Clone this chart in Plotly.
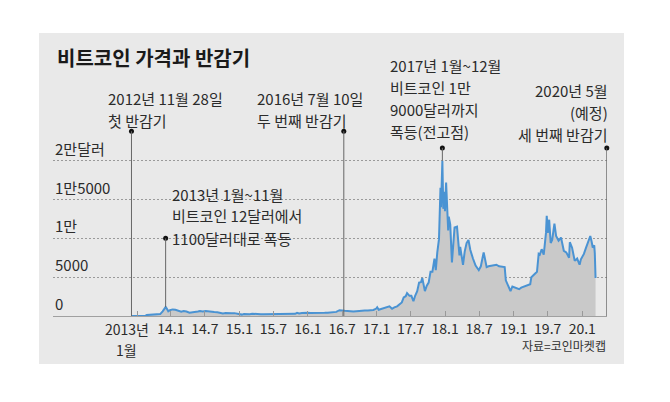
import plotly.graph_objects as go

# ---------------- data ----------------
dates = [
    "2012-11-28", "2012-12-15", "2013-01-15", "2013-02-10", "2013-08-25", "2013-09-15",
    "2013-10-15", "2013-11-05", "2013-11-18", "2013-11-30", "2013-12-04", "2013-12-10",
    "2013-12-18", "2013-12-27", "2014-01-10", "2014-01-25", "2014-02-10", "2014-02-25",
    "2014-03-10", "2014-03-25", "2014-04-10", "2014-04-25", "2014-05-10", "2014-05-25",
    "2014-06-05", "2014-06-20", "2014-07-05", "2014-07-20", "2014-08-05", "2014-08-20",
    "2014-09-05", "2014-09-20", "2014-10-05", "2014-10-20", "2014-11-05", "2014-11-20",
    "2014-12-05", "2014-12-20", "2015-01-05", "2015-01-14", "2015-01-25", "2015-02-10",
    "2015-02-25", "2015-03-10", "2015-03-25", "2015-04-10", "2015-04-25", "2015-05-10",
    "2015-05-25", "2015-06-10", "2015-06-25", "2015-07-10", "2015-07-25", "2015-08-10",
    "2015-08-25", "2015-09-10", "2015-09-25", "2015-10-10", "2015-10-25", "2015-11-04",
    "2015-11-15", "2015-11-30", "2015-12-15", "2015-12-30", "2016-01-15", "2016-01-30",
    "2016-02-15", "2016-02-28", "2016-03-15", "2016-03-30", "2016-04-15", "2016-04-30",
    "2016-05-15", "2016-05-31", "2016-06-17", "2016-06-30", "2016-07-15", "2016-07-30",
    "2016-08-15", "2016-08-30", "2016-09-15", "2016-09-30", "2016-10-15", "2016-10-30",
    "2016-11-15", "2016-11-30", "2016-12-15", "2016-12-30", "2017-01-04", "2017-01-12",
    "2017-01-25", "2017-02-10", "2017-02-25", "2017-03-10", "2017-03-24", "2017-04-05",
    "2017-04-20", "2017-05-05", "2017-05-15", "2017-05-25", "2017-06-05", "2017-06-12",
    "2017-06-25", "2017-07-05", "2017-07-16", "2017-07-25", "2017-08-05", "2017-08-15",
    "2017-08-25", "2017-09-01", "2017-09-15", "2017-09-25", "2017-10-05", "2017-10-15",
    "2017-10-25", "2017-11-05", "2017-11-12", "2017-11-20", "2017-11-29", "2017-12-07",
    "2017-12-10", "2017-12-17", "2017-12-22", "2017-12-27", "2017-12-31", "2018-01-06",
    "2018-01-10", "2018-01-17", "2018-01-20", "2018-01-28", "2018-02-06", "2018-02-12",
    "2018-02-20", "2018-03-05", "2018-03-12", "2018-03-18", "2018-03-22", "2018-04-06",
    "2018-04-15", "2018-04-25", "2018-05-05", "2018-05-15", "2018-05-29", "2018-06-12",
    "2018-06-29", "2018-07-10", "2018-07-25", "2018-08-10", "2018-08-20", "2018-09-05",
    "2018-09-15", "2018-10-01", "2018-10-15", "2018-11-01", "2018-11-14", "2018-11-20",
    "2018-11-30", "2018-12-15", "2018-12-25", "2019-01-10", "2019-01-30", "2019-02-10",
    "2019-02-25", "2019-03-10", "2019-03-30", "2019-04-05", "2019-04-20", "2019-05-05",
    "2019-05-14", "2019-05-20", "2019-05-30", "2019-06-10", "2019-06-22", "2019-06-26",
    "2019-07-02", "2019-07-09", "2019-07-17", "2019-07-25", "2019-08-06", "2019-08-15",
    "2019-08-28", "2019-09-10", "2019-09-25", "2019-10-08", "2019-10-23", "2019-10-27",
    "2019-11-08", "2019-11-22", "2019-12-05", "2019-12-18", "2019-12-25", "2020-01-10",
    "2020-01-20", "2020-02-01", "2020-02-13", "2020-02-20", "2020-02-26", "2020-03-05",
    "2020-03-08", "2020-03-12",
]
prices = [
    12, 13, 15, 25, 120, 130,
    150, 250, 600, 1130, 1150, 950,
    600, 750, 850, 800, 680, 550,
    630, 580, 420, 470, 450, 580,
    650, 590, 630, 620, 590, 510,
    480, 410, 330, 380, 340, 370,
    370, 320, 275, 180, 250, 220,
    240, 290, 250, 235, 225, 240,
    237, 230, 245, 290, 290, 265,
    220, 240, 235, 245, 285, 400,
    330, 375, 450, 430, 390, 380,
    400, 430, 415, 415, 430, 450,
    455, 530, 750, 670, 665, 655,
    570, 575, 610, 610, 640, 700,
    715, 745, 780, 960, 1130, 800,
    900, 1000, 1170, 1250, 930, 1120,
    1240, 1550, 1750, 2400, 2550, 2950,
    2600, 2600, 1900, 2600, 3200, 4300,
    4350, 4900, 3200, 3900, 4300, 5700,
    5700, 7400, 5900, 8200, 9900, 16500,
    14000, 20000, 13800, 16000, 13500, 17200,
    14500, 11000, 12800, 11800, 6900, 8900,
    11400, 11500, 9100, 7800, 8900, 6600,
    8300, 9400, 9800, 8500, 7400, 6500,
    5900, 6400, 8200, 6300, 6400, 6500,
    6500, 6600, 6400, 6350, 6300, 4600,
    4000, 3200, 3800, 3600, 3450, 3650,
    3800, 3900, 4100, 5000, 5300, 5700,
    8000, 7900, 8600, 7900, 10700, 12900,
    10700, 12400, 9400, 9800, 11900, 10300,
    9700, 10100, 8400, 8200, 7500, 9500,
    8800, 7100, 7400, 6600, 7300, 8000,
    8700, 9400, 10300, 9600, 8800, 9100,
    8100, 4900,
]

x_tick_dates = ["2013-01-01", "2014-01-01", "2014-07-01", "2015-01-01", "2015-07-01",
                "2016-01-01", "2016-07-01", "2017-01-01", "2017-07-01", "2018-01-01",
                "2018-07-01", "2019-01-01", "2019-07-01", "2020-01-01"]
x_tick_text = ["2013년\n1월", "14.1", "14.7", "15.1", "15.7", "16.1", "16.7", "17.1",
               "17.7", "18.1", "18.7", "19.1", "19.7", "20.1"]

y_tick_vals = [0, 5000, 10000, 15000, 20000]
y_tick_text = ["0", "5000", "1만", "1만5000", "2만달러"]

# event markers: date, price level where the leader line ends, top of leader line
event_dates = ["2012-11-28", "2013-12-04", "2016-07-10", "2017-12-17", "2020-05-11"]
event_base = [0, 1150, 0, 20000, 0]
event_top = [23800, 10000, 23800, 21650, 21650]

note_first_halving = ["2012년 11월 28일", "첫 반감기"]
note_second_halving = ["2016년 7월 10일", "두 번째 반감기"]
note_2017 = ["2017년 1월~12월", "비트코인 1만", "9000달러까지", "폭등(전고점)"]
note_third_halving = ["2020년 5월", "(예정)", "세 번째 반감기"]
note_2013 = ["2013년 1월~11월", "비트코인 12달러에서", "1100달러대로 폭등"]

title_text = "비트코인 가격과 반감기"
source_text = "자료=코인마켓캡"

# ---------------- layout geometry ----------------
W_FIG, H_FIG = 670, 402
L, R, T, Bm = 53, 63, 33, 86
PW = W_FIG - L - R
PH = H_FIG - T - Bm
BASE = H_FIG - Bm


def ppx(x):
    return (x - L) / PW


def ppy(y):
    return (BASE - y) / PH


FONT = "Noto Sans CJK KR"
TXT = "#2b2b2b"
BLUE = "#4a93d3"
FS = 15
LINE_GAP = 22
TICK_FS = 14

fig = go.Figure()

# price area + line
fig.add_trace(go.Scatter(
    x=dates, y=prices, mode="lines",
    line=dict(color=BLUE, width=2),
    fill="tozeroy", fillcolor="#c9c9c9",
    hoverinfo="skip", showlegend=False,
))

# leader lines
for d, b, t in zip(event_dates, event_base, event_top):
    fig.add_shape(type="line", xref="x", yref="y", x0=d, x1=d, y0=b, y1=t,
                  line=dict(color="#666666", width=1), layer="above")

fig.add_trace(go.Scatter(
    x=event_dates, y=event_top, mode="markers",
    marker=dict(color="#111111", size=5),
    hoverinfo="skip", showlegend=False, cliponaxis=False,
))

# grey panel
fig.add_shape(type="rect", xref="paper", yref="paper",
              x0=ppx(39), x1=ppx(624), y0=ppy(364), y1=ppy(33),
              fillcolor="#e9e9e9", line=dict(width=0), layer="below")

ann = []
ann.append(dict(text=f"<b>{title_text}</b>", x=ppx(55), y=ppy(57), xanchor="left",
                yanchor="middle", font=dict(size=20, color="#1a1a1a")))


def add_block(lines, xpx, ycenter, anchor="left", gap=LINE_GAP):
    n = len(lines)
    for i, t in enumerate(lines):
        yy = ycenter + (i - (n - 1) / 2) * gap
        ann.append(dict(text=t, x=ppx(xpx), y=ppy(yy), xanchor=anchor,
                        yanchor="middle", align=anchor))


add_block(note_first_halving, 106, 109.5)
add_block(note_second_halving, 255, 109.5)
add_block(note_2017, 388, 98.5)
add_block(note_third_halving, 610, 112, anchor="right")
add_block(note_2013, 170, 216)

ann.append(dict(text=source_text, x=ppx(608), y=ppy(345), xanchor="right",
                yanchor="middle", font=dict(size=12, color="#333333")))

# first x tick label sits a little left of its tick in the original (two lines)
for i, t in enumerate(x_tick_text[0].split("\n")):
    ann.append(dict(text=t, xref="x", yref="paper", x=x_tick_dates[0], y=ppy(329 + i * 20.5),
                    xanchor="center", yanchor="middle", xshift=-11,
                    font=dict(size=TICK_FS, color=TXT)))

for v, t in zip(y_tick_vals, y_tick_text):
    ann.append(dict(text=t, xref="paper", yref="y", x=0, y=v, xanchor="left",
                    yanchor="bottom", yshift=0))

for a in ann:
    a.setdefault("xref", "paper")
    a.setdefault("yref", "paper")
    a.setdefault("showarrow", False)
    a.setdefault("font", dict(size=FS, color=TXT))

fig.update_layout(
    width=W_FIG, height=H_FIG,
    margin=dict(l=L, r=R, t=T, b=Bm),
    paper_bgcolor="white",
    plot_bgcolor="rgba(0,0,0,0)",
    font=dict(family=FONT, color=TXT, size=FS),
    annotations=ann,
    showlegend=False,
)

fig.update_xaxes(
    type="date",
    range=["2011-10-07", "2020-05-12"],
    rangebreaks=[dict(bounds=["2013-02-15", "2013-08-23"])],
    tickmode="array", tickvals=x_tick_dates, ticktext=[""] + x_tick_text[1:],
    tickangle=0,
    ticks="inside", ticklen=5, tickcolor="#999999",
    tickfont=dict(size=TICK_FS, color=TXT),
    showgrid=False, showline=True, linecolor="#a0a0a0", linewidth=1,
    zeroline=False, fixedrange=True,
)
fig.update_yaxes(
    range=[0, 283 / 155.3 * 20000],
    tickmode="array", tickvals=y_tick_vals,
    showticklabels=False, showgrid=True,
    gridcolor="#9a9a9a", griddash="2px,2px", gridwidth=1,
    zeroline=False, showline=False, fixedrange=True,
)

fig.write_html("out.html")
